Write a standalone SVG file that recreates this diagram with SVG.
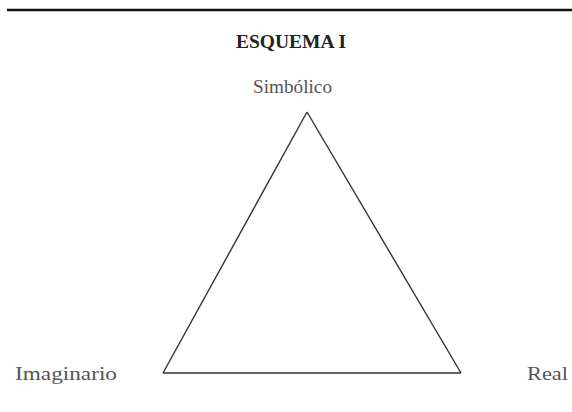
<svg xmlns="http://www.w3.org/2000/svg" width="572" height="412" viewBox="0 0 572 412">
<style>
.t{font-family:"Liberation Serif","Times New Roman",serif;font-size:19px;fill:#555}
.h{font-family:"Liberation Serif","Times New Roman",serif;font-size:19px;font-weight:bold;fill:#222}
.e{stroke:#333;stroke-width:1.4;fill:none}
</style>
<rect width="572" height="412" fill="#fff"/>
<line x1="7" y1="10" x2="572" y2="10" stroke="#111" stroke-width="2.5"/>
<text class="h" x="236" y="48" textLength="110" lengthAdjust="spacingAndGlyphs">ESQUEMA I</text>
<g id="simbolico"><text class="t" x="253" y="93" textLength="79" lengthAdjust="spacingAndGlyphs">Simbólico</text></g>
<g id="imaginario"><text class="t" x="15" y="380" textLength="102" lengthAdjust="spacingAndGlyphs">Imaginario</text></g>
<g id="real"><text class="t" x="527" y="380" textLength="41" lengthAdjust="spacingAndGlyphs">Real</text></g>
<g id="connectors">
<line class="e" x1="307" y1="112" x2="163" y2="373"/>
<line class="e" x1="307" y1="112" x2="461" y2="373"/>
<line class="e" x1="163" y1="373" x2="461" y2="373" stroke="#888"/>
</g>
</svg>
